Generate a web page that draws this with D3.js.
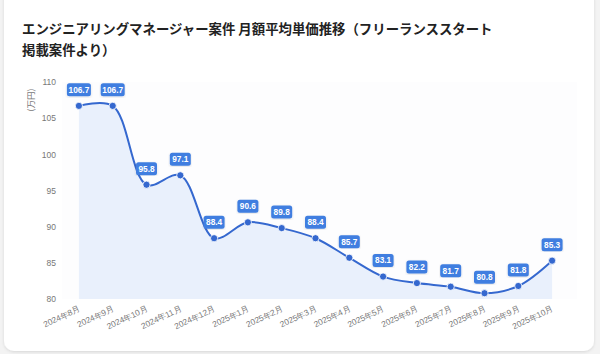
<!DOCTYPE html>
<html>
<head>
<meta charset="utf-8">
<script src="https://cdn.jsdelivr.net/npm/d3@7"></script>
<style>
  html, body { margin: 0; padding: 0; background: #f3f3f3; }
  svg { display: block; font-family: "Noto Sans CJK JP", "Noto Sans", sans-serif; }
</style>
</head>
<body>
<svg id="chart" width="600" height="354"></svg>
<script>
const months = [
  '2024年8月', '2024年9月', '2024年10月', '2024年11月', '2024年12月',
  '2025年1月', '2025年2月', '2025年3月', '2025年4月', '2025年5月',
  '2025年6月', '2025年7月', '2025年8月', '2025年9月', '2025年10月'
];
const prices = [106.7, 106.7, 95.8, 97.1, 88.4, 90.6, 89.8, 88.4, 85.7, 83.1, 82.2, 81.7, 80.8, 81.8, 85.3];
const yTicks = [80, 85, 90, 95, 100, 105, 110];
const titleLines = [
  'エンジニアリングマネージャー案件 月額平均単価推移（フリーランススタート',
  '掲載案件より）'
];
const yLabel = '(万円)';

const svg = d3.select('#chart');

// card
const defs = svg.append('defs');
const shadow = defs.append('filter').attr('id', 'shadow')
  .attr('x', '-5%').attr('y', '-5%').attr('width', '110%').attr('height', '110%');
shadow.append('feDropShadow')
  .attr('dx', 0).attr('dy', 1).attr('stdDeviation', 1.5)
  .attr('flood-color', '#000').attr('flood-opacity', 0.12);

svg.append('rect')
  .attr('x', 4).attr('y', -12)
  .attr('width', 590).attr('height', 363)
  .attr('rx', 10).attr('ry', 10)
  .attr('fill', '#fff')
  .attr('filter', 'url(#shadow)');

// title
svg.append('text')
  .attr('font-size', 13.4)
  .attr('font-weight', 700)
  .attr('fill', '#222')
  .selectAll('tspan')
  .data(titleLines)
  .join('tspan')
  .attr('x', 22)
  .attr('y', (d, i) => 34 + i * 20.5)
  .text(d => d);

const plot = { left: 62, right: 577, top: 82, bottom: 299 };

const x = d3.scalePoint()
  .domain(months)
  .range([plot.left, plot.right - 8])
  .padding(0.5);

const y = d3.scaleLinear()
  .domain([80, 110])
  .range([plot.bottom, plot.top]);

// faint plot background
svg.append('rect')
  .attr('x', plot.left).attr('y', plot.top)
  .attr('width', plot.right - plot.left).attr('height', plot.bottom - plot.top)
  .attr('fill', '#fdfdfe');

// y axis
const yAxis = svg.append('g')
  .attr('transform', `translate(${plot.left},0)`)
  .call(d3.axisLeft(y).tickValues(yTicks).tickSize(0).tickPadding(6));
yAxis.select('.domain').remove();
yAxis.selectAll('text')
  .attr('font-size', 8.5)
  .attr('fill', '#777')
  .attr('font-family', '"Liberation Sans", "Noto Sans", sans-serif');

svg.append('text')
  .attr('transform', 'translate(34,100) rotate(-90)')
  .attr('text-anchor', 'middle')
  .attr('font-size', 8.5)
  .attr('fill', '#777')
  .text(yLabel);

// x axis
const xAxis = svg.append('g')
  .attr('transform', `translate(0,${plot.bottom})`)
  .call(d3.axisBottom(x).tickSize(0).tickPadding(0));
xAxis.select('.domain').remove();
xAxis.selectAll('text')
  .attr('font-size', 8.3)
  .attr('fill', '#777')
  .attr('text-anchor', 'end')
  .attr('dy', 0)
  .attr('transform', 'translate(1,12) rotate(-25)');

// area + line
const pts = months.map((m, i) => ({ month: m, value: prices[i] }));
const curve = d3.curveCatmullRom.alpha(0.5);

svg.append('path')
  .datum(pts)
  .attr('fill', '#e9f0fc')
  .attr('d', d3.area()
    .x(d => x(d.month))
    .y0(plot.bottom)
    .y1(d => y(d.value))
    .curve(curve));

svg.append('path')
  .datum(pts)
  .attr('fill', 'none')
  .attr('stroke', '#3568cf')
  .attr('stroke-width', 2)
  .attr('d', d3.line()
    .x(d => x(d.month))
    .y(d => y(d.value))
    .curve(curve));

svg.append('g')
  .selectAll('circle')
  .data(pts)
  .join('circle')
  .attr('cx', d => x(d.month))
  .attr('cy', d => y(d.value))
  .attr('r', 3.6)
  .attr('fill', '#3568cf')
  .attr('stroke', '#fff')
  .attr('stroke-width', 0.8);

// value labels
const labels = svg.append('g')
  .selectAll('g')
  .data(pts)
  .join('g')
  .attr('transform', d => `translate(${x(d.month)},${y(d.value) - 16})`);

labels.append('rect')
  .attr('x', d => d.value >= 100 ? -12 : -10.5)
  .attr('y', -6.5)
  .attr('width', d => d.value >= 100 ? 24 : 21)
  .attr('height', 13)
  .attr('rx', 2.5)
  .attr('fill', '#3f7ee0')
  .attr('filter', 'url(#shadow)');

labels.append('text')
  .attr('text-anchor', 'middle')
  .attr('dy', '0.35em')
  .attr('font-size', 8.3)
  .attr('font-weight', 700)
  .attr('fill', '#fff')
  .attr('font-family', '"Liberation Sans", "Noto Sans", sans-serif')
  .text(d => d.value.toFixed(1));
</script>
</body>
</html>
